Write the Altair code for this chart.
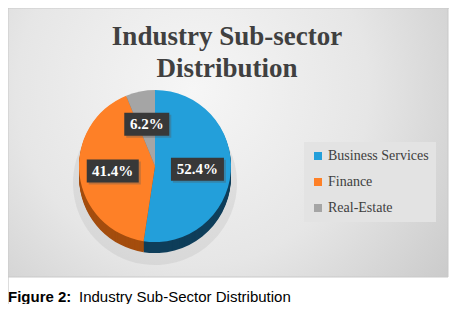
import math
import altair as alt
import pandas as pd

# ---- data ----
categories = ["Business Services", "Finance", "Real-Estate"]
shares = [52.4, 41.4, 6.2]
labels = ["52.4%", "41.4%", "6.2%"]
colors = ["#239fda", "#fe8027", "#a5a5a5"]
side_colors = ["#0f3e5a", "#a44d0e", "#707070"]
box_widths = [53, 52, 45]

title_lines = ["Industry Sub-sector", "Distribution"]
caption_bold = "Figure 2:"
caption_text = "Industry Sub-Sector Distribution"

# ---- layout ----
W, H = 441, 296
CX, CY, R = 147, 158, 76
DEPTH = 11
LABEL_R = 0.56
BOX_H = 23

total = sum(shares)
cum = 0.0
rows = []
for i, (c, v, l, sc, bw) in enumerate(zip(categories, shares, labels, side_colors, box_widths)):
    mid = (cum + v / 2) / total * 2 * math.pi
    cum += v
    r = BOX_H / bw
    rows.append(dict(idx=i, category=c, share=v, label=l, side=sc,
                     lx=LABEL_R * math.sin(mid), ly=LABEL_R * math.cos(mid),
                     box=f"M-1,-{r:.3f}H1V{r:.3f}H-1Z", boxsize=bw * bw))
df = pd.DataFrame(rows)

base = alt.Chart(df)
xs = alt.X("lx:Q", scale=alt.Scale(domain=[-1, 1], range=[CX - R, CX + R]), axis=None)
ys = alt.Y("ly:Q", scale=alt.Scale(domain=[-1, 1], range=[CY + R, CY - R]), axis=None)

one = alt.Chart(pd.DataFrame({"a": [0]}))

bg = one.mark_rect(
    fill=alt.Gradient(gradient="radial",
                      stops=[alt.GradientStop(color="#f6f6f6", offset=0),
                             alt.GradientStop(color="#e6e6e6", offset=0.5),
                             alt.GradientStop(color="#c4c4c4", offset=1)],
                      x1=0.42, y1=0.38, r1=0, x2=0.42, y2=0.38, r2=0.8),
    stroke="#c9c9c9", strokeWidth=1,
).encode(x=alt.value(0), x2=alt.value(440), y=alt.value(0), y2=alt.value(269))

theta = alt.Theta("share:Q", stack=True)
order = alt.Order("idx:Q")

shadow = base.mark_arc(radius=R + 6, fill="#9c9c9c", opacity=0.18).encode(
    theta=theta, order=order, x=alt.value(CX), y=alt.value(CY + DEPTH + 6))

sides = [
    base.mark_arc(radius=R).encode(
        theta=theta, order=order,
        fill=alt.Fill("side:N", scale=None, legend=None),
        x=alt.value(CX), y=alt.value(CY + d))
    for d in range(DEPTH, 0, -1)
]

top = base.mark_arc(radius=R).encode(
    theta=theta, order=order,
    color=alt.Color("category:N",
                    scale=alt.Scale(domain=categories, range=colors),
                    sort=categories,
                    legend=alt.Legend(orient="none", legendX=296, legendY=134,
                                      title=None, fillColor="#e3e3e3", padding=7,
                                      symbolType="square", symbolSize=64,
                                      symbolStrokeWidth=0,
                                      labelFont="Liberation Serif", labelFontSize=14,
                                      labelColor="#404040", rowPadding=12,
                                      labelOffset=3)),
    x=alt.value(CX), y=alt.value(CY))

box_shadow = base.mark_point(filled=True, opacity=0.35, strokeWidth=0,
                             xOffset=2, yOffset=2).encode(
    x=xs, y=ys, shape=alt.Shape("box:N", scale=None),
    size=alt.Size("boxsize:Q", scale=None), color=alt.value("#555555"))

boxes = base.mark_point(filled=True, opacity=1, strokeWidth=0).encode(
    x=xs, y=ys, shape=alt.Shape("box:N", scale=None),
    size=alt.Size("boxsize:Q", scale=None), color=alt.value("#383838"))

texts = base.mark_text(font="Liberation Serif", fontWeight="bold", fontSize=15,
                       color="white", baseline="middle", align="center").encode(
    x=xs, y=ys, text="label:N")

title_layers = [
    one.mark_text(font="Liberation Serif", fontWeight="bold", fontSize=27,
                  color="#404040", align="center", baseline="alphabetic",
                  text=t).encode(x=alt.value(219), y=alt.value(yy))
    for t, yy in zip(title_lines, [37, 69])
]

cap1 = one.mark_text(font="Liberation Sans", fontWeight="bold", fontSize=15,
                     color="black", align="left", baseline="alphabetic",
                     text=caption_bold).encode(x=alt.value(0), y=alt.value(294))
cap2 = one.mark_text(font="Liberation Sans", fontSize=15,
                     color="black", align="left", baseline="alphabetic",
                     text=caption_text).encode(x=alt.value(71), y=alt.value(294))

chart = alt.layer(bg, shadow, *sides, top, box_shadow, boxes, texts,
                  *title_layers, cap1, cap2).properties(
    width=W, height=H,
    autosize=alt.AutoSizeParams(type="none"),
    padding=0,
).configure_view(stroke=None).configure(background="white")

chart.save("out.html", embed_options={"renderer": "svg", "actions": False})
